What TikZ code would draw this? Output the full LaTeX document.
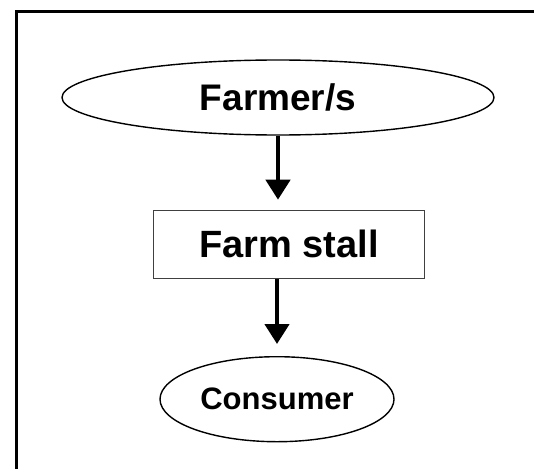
\documentclass[tikz,border=0pt]{standalone}
\usepackage{fontspec}
\setmainfont{Liberation Sans}
\usetikzlibrary{arrows.meta,positioning,shapes.geometric}
\tikzset{
  >={Triangle[length=20pt,width=24pt]},
  oval/.style={draw,ellipse,line width=1.4pt,inner sep=0pt},
  stallbox/.style={draw=black!75,line width=1.3pt,inner sep=0pt},
  arr/.style={->,line width=4.5pt},
  big/.style={font=\bfseries\fontsize{37}{44}\selectfont},
}
\begin{document}
\begin{tikzpicture}[x=1pt,y=-1pt]
\path[use as bounding box,clip] (0,0) rectangle (534,468);
\draw[line width=3pt] (16,12) rectangle (560,490);
\node[oval,big,minimum width=432pt,minimum height=75pt] (farmer) at (278,97.5) {Farmer/s};
\node[stallbox,big,font=\bfseries\fontsize{38}{45}\selectfont,minimum width=271pt,minimum height=68pt,below=74pt of farmer,xshift=11pt] (stall) {Farm stall};
\node[oval,font=\bfseries\fontsize{31}{37}\selectfont,minimum width=234pt,minimum height=85pt,below=77pt of stall,xshift=-12pt] (consumer) {Consumer};
\draw[arr,shorten >=10pt] (farmer.south) -- (farmer.south |- stall.north);
\draw[arr,shorten >=12pt] (consumer.north |- stall.south) -- (consumer.north);
\end{tikzpicture}
\end{document}
